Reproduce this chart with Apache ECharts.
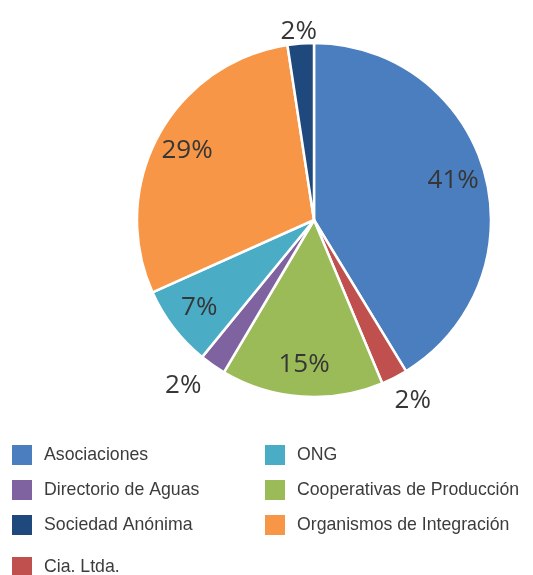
<!DOCTYPE html>
<html>
<head>
<meta charset="utf-8">
<script src="https://cdn.jsdelivr.net/npm/echarts@6/dist/echarts.min.js"></script>
<style>
  html, body { margin: 0; padding: 0; background: #fff; }
  #main { width: 533px; height: 575px; }
</style>
</head>
<body>
<div id="main"></div>
<script>
// clockwise from 12 o'clock
var categories = ['Asociaciones', 'Cia. Ltda.', 'Cooperativas de Producción', 'Directorio de Aguas', 'ONG', 'Organismos de Integración', 'Sociedad Anónima'];
var shares = [41.3, 2.4, 14.8, 2.4, 7.4, 29.3, 2.4];
var colors = ['#4a7ebe', '#c0504d', '#9bbb59', '#7f63a1', '#4bacc6', '#f79646', '#1f497d'];
// small slices get their label outside the pie
var outsideLabel = [false, true, false, true, false, false, true];

var legendLeft = ['Asociaciones', 'Directorio de Aguas', 'Sociedad Anónima'];
var legendRight = ['ONG', 'Cooperativas de Producción', 'Organismos de Integración'];
var legendLast = ['Cia. Ltda.'];

var chartDom = document.getElementById('main');
var myChart = echarts.init(chartDom);
var option;

var R = 177;
var center = [314, 220];

// nudge the outside labels a little (padding shifts the text box sideways)
var outsidePadding = {
  'Cia. Ltda.': [0, 0, 0, 14],
  'Directorio de Aguas': [0, 30, 0, 0]
};

function pct(p) {
  return Math.round(p.percent) + '%';
}

var labelStyle = {
  fontFamily: 'Open Sans',
  fontSize: 26,
  color: '#363636'
};

var pieData = categories.map(function (c, i) {
  return { name: c, value: shares[i], itemStyle: { color: colors[i] } };
});

function labelData(showOutside) {
  return categories.map(function (c, i) {
    var lbl = { show: outsideLabel[i] === showOutside };
    if (showOutside && outsidePadding[c]) lbl.padding = outsidePadding[c];
    if (showOutside && c === 'Sociedad Anónima') {
      // push the top label down by half a line
      lbl.lineHeight = 26;
      lbl.formatter = function (p) { return '\n' + pct(p); };
    }
    return { name: c, value: shares[i], label: lbl };
  });
}

var legendCommon = {
  orient: 'vertical',
  icon: 'rect',
  padding: 0,
  itemWidth: 22,
  itemHeight: 22,
  itemGap: 11,
  selectedMode: false,
  textStyle: {
    fontFamily: 'Liberation Sans',
    fontSize: 17.7,
    color: '#3c3c3c',
    padding: [0, 0, 0, 6]
  }
};

option = {
  backgroundColor: '#fff',
  animation: false,
  legend: [
    Object.assign({}, legendCommon, { left: 10, top: 443, data: legendLeft }),
    Object.assign({}, legendCommon, { left: 263, top: 443, data: legendRight }),
    Object.assign({}, legendCommon, { left: 10, top: 555, data: legendLast })
  ],
  series: [
    {
      name: 'main',
      type: 'pie',
      center: center,
      radius: [0, R],
      startAngle: 90,
      clockwise: true,
      label: { show: false },
      labelLine: { show: false },
      itemStyle: { borderColor: '#fff', borderWidth: 2.5 },
      data: pieData
    },
    {
      name: 'inner labels',
      type: 'pie',
      silent: true,
      center: center,
      radius: [R * 0.6, R],
      startAngle: 90,
      clockwise: true,
      itemStyle: { color: 'transparent' },
      label: Object.assign({ position: 'inner', formatter: pct }, labelStyle),
      labelLine: { show: false },
      data: labelData(false)
    },
    {
      name: 'outer labels',
      type: 'pie',
      silent: true,
      center: center,
      radius: [R, R * 1.25],
      startAngle: 90,
      clockwise: true,
      itemStyle: { color: 'transparent' },
      label: Object.assign({ position: 'inner', formatter: pct }, labelStyle),
      labelLine: { show: false },
      data: labelData(true)
    }
  ]
};

myChart.setOption(option);
</script>
</body>
</html>
